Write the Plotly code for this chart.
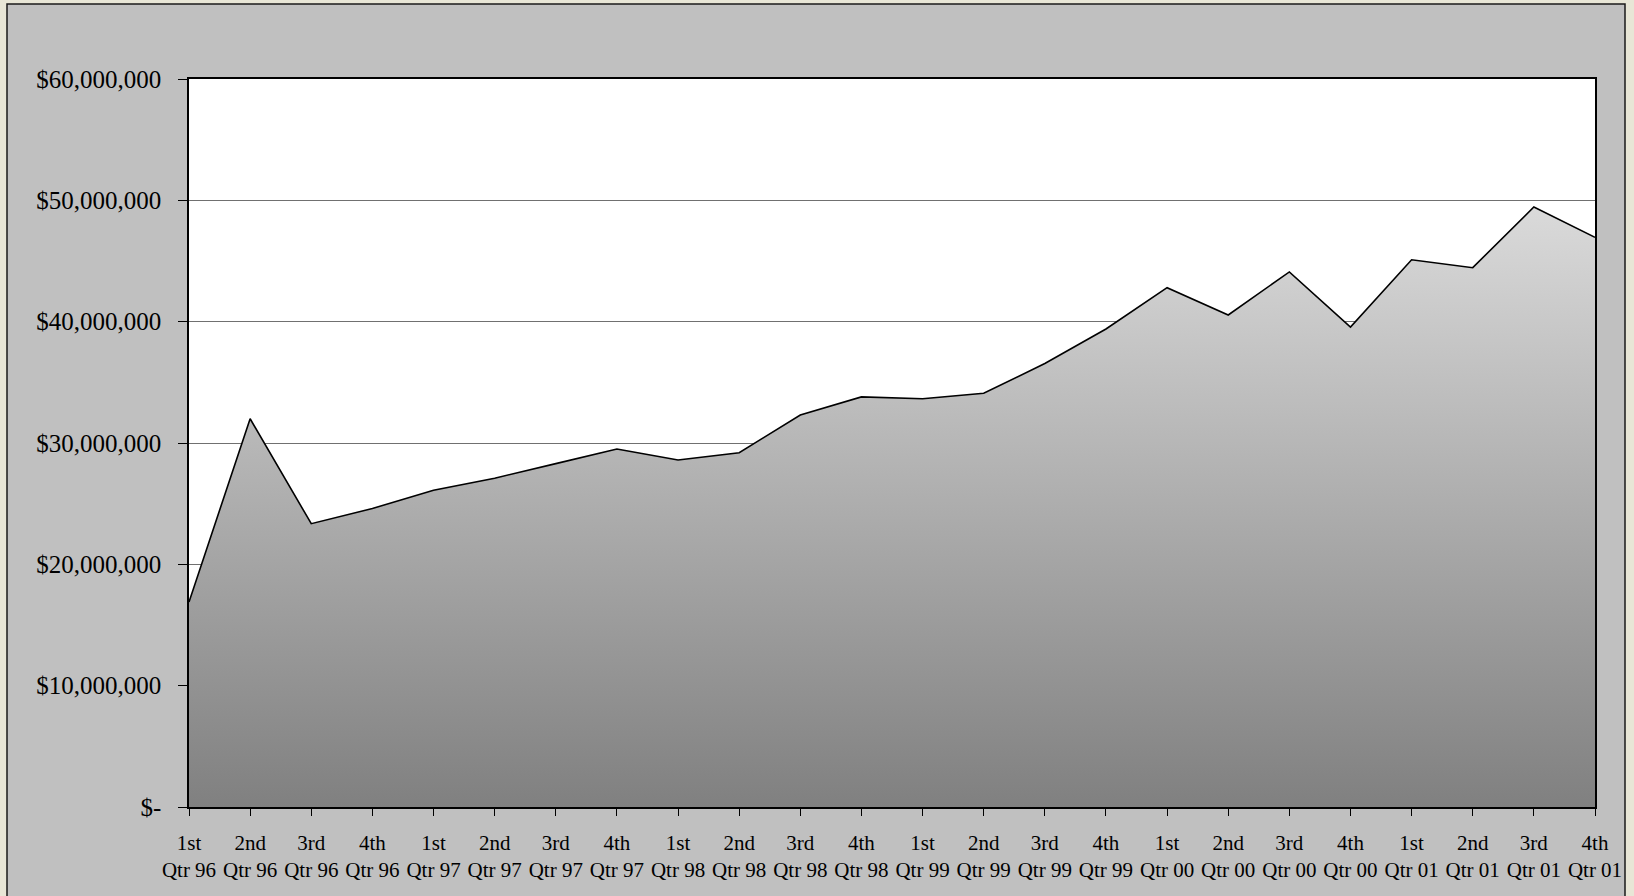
import plotly.graph_objects as go

# quarterly totals
quarters = ["1st<br>Qtr 96", "2nd<br>Qtr 96", "3rd<br>Qtr 96", "4th<br>Qtr 96",
            "1st<br>Qtr 97", "2nd<br>Qtr 97", "3rd<br>Qtr 97", "4th<br>Qtr 97",
            "1st<br>Qtr 98", "2nd<br>Qtr 98", "3rd<br>Qtr 98", "4th<br>Qtr 98",
            "1st<br>Qtr 99", "2nd<br>Qtr 99", "3rd<br>Qtr 99", "4th<br>Qtr 99",
            "1st<br>Qtr 00", "2nd<br>Qtr 00", "3rd<br>Qtr 00", "4th<br>Qtr 00",
            "1st<br>Qtr 01", "2nd<br>Qtr 01", "3rd<br>Qtr 01", "4th<br>Qtr 01"]
values = [16.9e6, 32.0e6, 23.35e6, 24.6e6,
          26.1e6, 27.1e6, 28.3e6, 29.5e6,
          28.6e6, 29.2e6, 32.3e6, 33.8e6,
          33.65e6, 34.1e6, 36.55e6, 39.4e6,
          42.8e6, 40.55e6, 44.1e6, 39.55e6,
          45.1e6, 44.45e6, 49.45e6, 46.95e6]

y_ticks = [0, 10e6, 20e6, 30e6, 40e6, 50e6, 60e6]
y_labels = ["$-", "$10,000,000", "$20,000,000", "$30,000,000",
            "$40,000,000", "$50,000,000", "$60,000,000"]

W, H = 1634, 896
L, R, T, B = 189, 1595, 79, 807   # plot area in pixels
pw, ph = R - L, B - T

def px_x(p):
    return (p - L) / pw

def px_y(p):
    return (B - p) / ph

fig = go.Figure()

fig.add_trace(go.Scatter(
    x=quarters, y=values,
    mode="lines",
    fill="tozeroy",
    fillgradient=dict(type="vertical",
                      colorscale=[[0, "#808080"], [1, "#dadada"]]),
    line=dict(color="black", width=1.6),
    hoverinfo="skip",
    showlegend=False,
))

fig.update_layout(
    width=W, height=H,
    margin=dict(l=L, r=W - R, t=T, b=H - B, pad=0),
    paper_bgcolor="#e8e6d6",
    plot_bgcolor="white",
    font=dict(family="Liberation Serif, Times New Roman, serif", color="black"),
    shapes=[
        # grey chart panel with dark border
        dict(type="rect", xref="paper", yref="paper", layer="below",
             x0=px_x(7), x1=px_x(1625), y0=px_y(905), y1=px_y(4),
             fillcolor="#c0c0c0", line=dict(color="#1a1a1a", width=1.5)),
        # white plot area
        dict(type="rect", xref="paper", yref="paper", layer="below",
             x0=0, x1=1, y0=0, y1=1,
             fillcolor="white", line=dict(width=0)),
    ],
)

fig.update_xaxes(
    type="category",
    range=[0, len(quarters) - 1],
    automargin=False,
    showgrid=False,
    showline=True, linecolor="black", linewidth=1.5, mirror=True,
    ticks="outside", ticklen=7, tickcolor="black", tickwidth=1,
    ticklabelstandoff=9,
    tickfont=dict(size=21),
)
fig.update_yaxes(
    range=[0, 60e6],
    automargin=False,
    tickvals=y_ticks, ticktext=y_labels,
    showgrid=True, gridcolor="#707070", gridwidth=1,
    zeroline=False,
    showline=True, linecolor="black", linewidth=1.5, mirror=True,
    ticks="outside", ticklen=9, tickcolor="black", tickwidth=1,
    ticklabelstandoff=12,
    tickfont=dict(size=25),
)

# drop the default 8px body margin so the figure fills the window exactly
fig.write_html("out.html",
               config={"displayModeBar": False},
               post_script="document.body.style.margin='0';"
                           "document.body.style.overflow='hidden';")
